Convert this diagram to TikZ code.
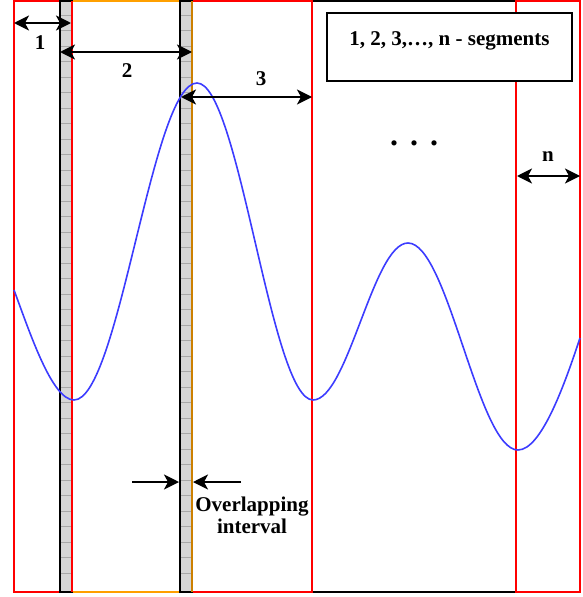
\documentclass[tikz,border=0pt]{standalone}
\usepackage{fontspec}
\setmainfont{Liberation Serif}
\usepackage{tikz}
\usetikzlibrary{arrows.meta}
\definecolor{SegRed}{HTML}{FF0000}
\definecolor{SegOrange}{HTML}{FFA000}
\definecolor{StripGray}{HTML}{D6D6D6}
\definecolor{GridGray}{HTML}{A8A8A8}
\definecolor{WaveBlue}{HTML}{3C3CFF}

\begin{document}
\begin{tikzpicture}[x=1pt,y=-1pt,
    lbl/.style={font=\fontsize{21}{22}\selectfont\bfseries},
    dimline/.style={black,line width=1.8pt,{Stealth[length=15pt,width=15pt,inset=4pt]}-{Stealth[length=15pt,width=15pt,inset=4pt]}},
    pointer/.style={black,line width=1.8pt,-{Stealth[length=15pt,width=15pt,inset=4pt]}}]
  \useasboundingbox (0,0) rectangle (583,597);
  % frame and segments
  \draw[black,line width=2.5pt] (14,1) rectangle (580,592);
  \foreach \a/\b/\col in {14/72/SegRed,60/192/SegOrange,180/312/SegRed,516/580/SegRed}{
    \draw[\col,line width=1.8pt] (\a,1) rectangle (\b,592);
  }
  % overlapping strips
  \foreach \a in {60,180}{
    \fill[StripGray] (\a,1) rectangle (\a+12,592);
    \foreach \y in {15,30.5,...,585}
      \draw[GridGray,line width=0.6pt] (\a,\y) -- (\a+12,\y);
    \draw[black,line width=2.5pt] (\a,1) rectangle (\a+12,592);
  }
  \draw[SegRed,line width=1.2pt] (72,1) -- (72,592);
  \draw[SegOrange!80!black,line width=1.2pt] (192,1) -- (192,592);
  % signal
  \draw[WaveBlue,line width=1.6pt] (14,290) .. controls (30,333) and (52,400) .. (74,400)
    .. controls (119,400) and (152,83) .. (197,83)
    .. controls (239,83) and (271,400) .. (313,400)
    .. controls (348,400) and (373,243) .. (408,243)
    .. controls (448,243) and (478,450) .. (518,450)
    .. controls (542,450) and (566,380) .. (580,338);
  % segment widths
  \coordinate (s1a) at (14,23);  \coordinate (s1b) at (71,23);
  \coordinate (s2a) at (60,52);  \coordinate (s2b) at (192,52);
  \coordinate (s3a) at (181,97); \coordinate (s3b) at (312,97);
  \coordinate (sna) at (517,176); \coordinate (snb) at (580,176);
  \draw[dimline] (s1a) -- (s1b);
  \draw[dimline] (s2a) -- (s2b);
  \draw[dimline] (s3a) -- (s3b);
  \draw[dimline] (sna) -- (snb);
  \node[lbl] (l1) at (40,43) {1};
  \node[lbl] (l2) at (127,71) {2};
  \node[lbl] (l3) at (261,79) {3};
  \node[lbl] (ln) at (548,157) {n};
  \node[font=\fontsize{32}{34}\selectfont\bfseries,anchor=base] (dots) at (414,145) {.\hspace{12pt}.\hspace{12pt}.};
  \node[lbl,draw,line width=2.2pt,fill=white,inner sep=0pt,minimum width=245pt,minimum height=68pt,
        text height=14pt,text depth=17pt] (segbox) at (449.5,47) {1, 2, 3,…, n - segments};
  % overlap marker
  \coordinate (o1a) at (132,482); \coordinate (o1b) at (179,482);
  \coordinate (o2a) at (241,482); \coordinate (o2b) at (193,482);
  \draw[pointer] (o1a) -- (o1b);
  \draw[pointer] (o2a) -- (o2b);
  \node[lbl,align=center] (ovl) at (252,515) {Overlapping\\interval};
\end{tikzpicture}
\end{document}
